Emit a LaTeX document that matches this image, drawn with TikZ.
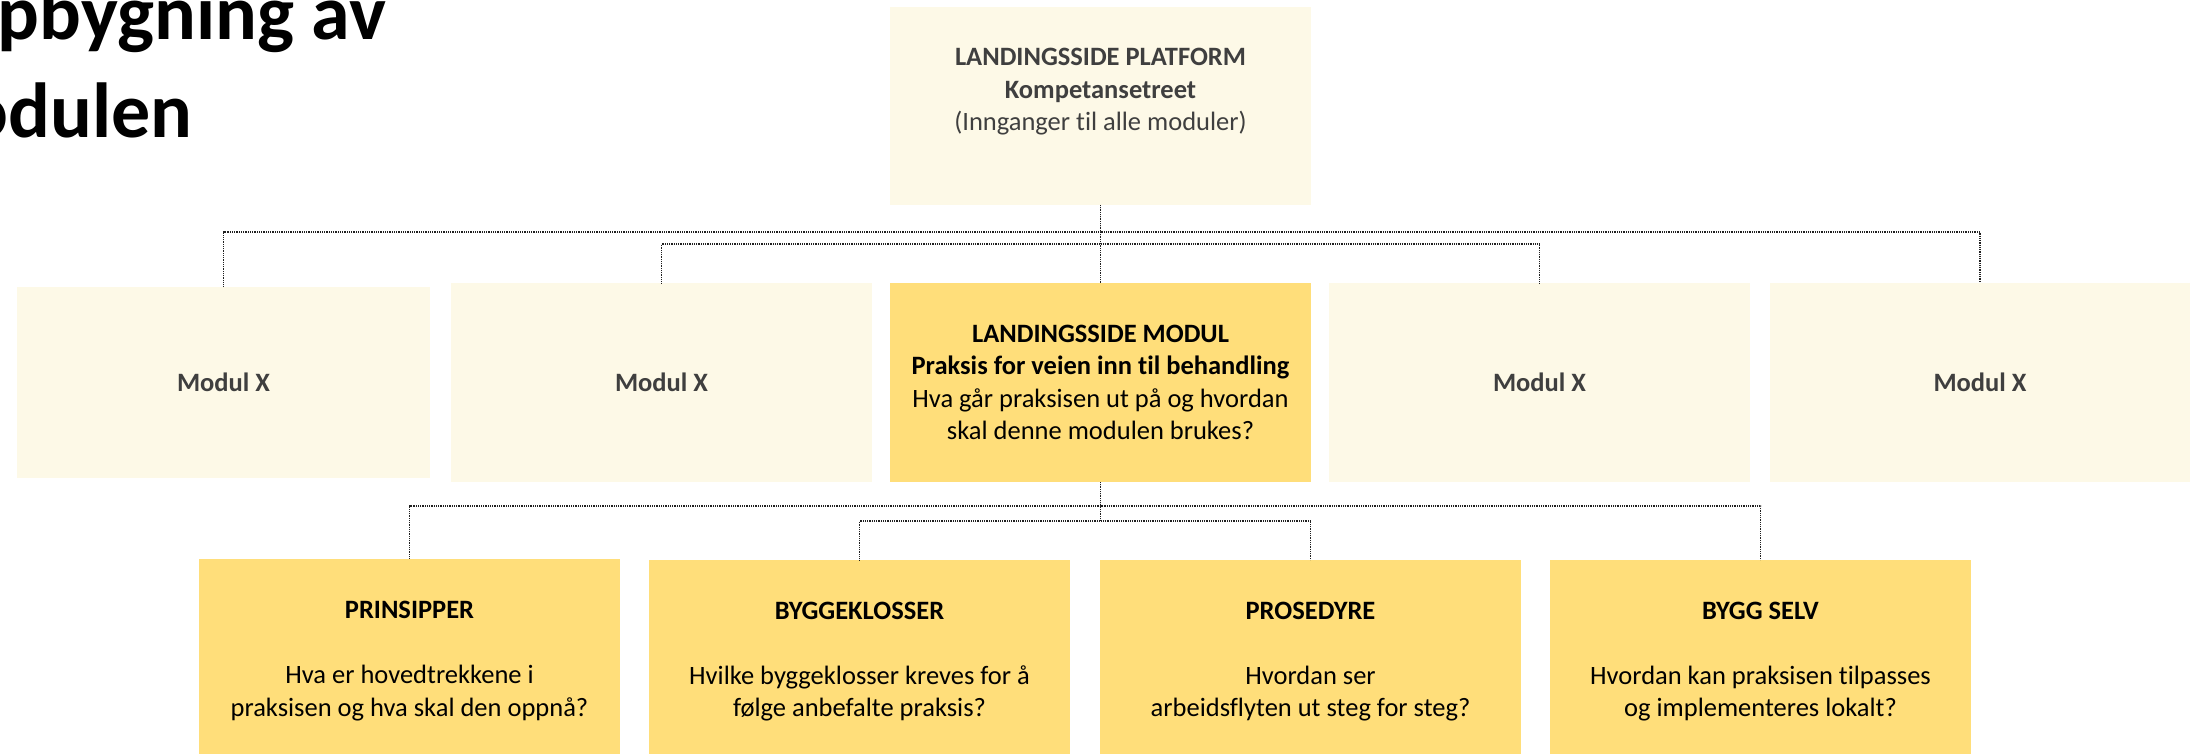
\documentclass[tikz,border=0pt]{standalone}
\usepackage{fontspec}
\setmainfont{Carlito}[Ligatures=NoCommon]
\definecolor{pale}{HTML}{FDF9E7}
\definecolor{gold}{HTML}{FFDE7A}
\definecolor{txtgray}{HTML}{3F3F3F}
\definecolor{linegray}{HTML}{202020}
\begin{document}
\begin{tikzpicture}[x=1pt,y=-1pt,
  box/.style={rectangle, inner sep=0pt, outer sep=0pt, anchor=north west, align=center,
    minimum width=421pt, minimum height=199pt,
    font=\fontsize{26.5}{32.5}\selectfont},
  palebox/.style={box, fill=pale, text=txtgray},
  goldbox/.style={box, fill=gold, text=black},
  conn/.style={draw=linegray, line width=1.1pt, dash pattern=on 1pt off 0.8pt}
]
\useasboundingbox (0,0) rectangle (2199,754);
\clip (0,0) rectangle (2199,754);
\fill[white] (0,0) rectangle (2199,754);

% title (cut off at the left edge, as in the reference)
\node[anchor=base west, inner sep=0pt, align=left, font=\fontsize{78}{98}\selectfont\bfseries] (title) at (-97,138) {Oppbygning av\\modulen};

% top box
\node[palebox, minimum height=198pt] (top) at (890,7) {\textbf{LANDINGSSIDE PLATFORM}\\\textbf{Kompetansetreet}\\(Innganger til alle moduler)\\\mbox{}};

% second row
\node[palebox, minimum width=413pt, minimum height=191pt] (m1) at (17,287) {\textbf{Modul X}};
\node[palebox] (m2) at (451,283) {\textbf{Modul X}};
\node[goldbox] (mid) at (890,283) {\textbf{LANDINGSSIDE MODUL}\\\textbf{Praksis for veien inn til behandling}\\Hva går praksisen ut på og hvordan\\skal denne modulen brukes?};
\node[palebox] (m4) at (1329,283) {\textbf{Modul X}};
\node[palebox, minimum width=420pt] (m5) at (1770,283) {\textbf{Modul X}};

% bottom row
\node[goldbox, minimum height=204pt] (b1) at (199,559) {\textbf{PRINSIPPER}\\\mbox{}\\Hva er hovedtrekkene i\\praksisen og hva skal den oppnå?};
\node[goldbox, minimum height=203pt] (b2) at (649,560) {\textbf{BYGGEKLOSSER}\\\mbox{}\\Hvilke byggeklosser kreves for å\\følge anbefalte praksis?};
\node[goldbox, minimum height=203pt] (b3) at (1100,560) {\textbf{PROSEDYRE}\\\mbox{}\\Hvordan ser\\arbeidsflyten ut steg for steg?};
\node[goldbox, minimum height=203pt] (b4) at (1550,560) {\textbf{BYGG SELV}\\\mbox{}\\Hvordan kan praksisen tilpasses\\og implementeres lokalt?};

% connectors top -> second row
\draw[conn] (top.south) -- ++(0,27) -| (m1.north);
\draw[conn] (top.south) -- ++(0,27) -| (m5.north);
\draw[conn] (top.south) -- ++(0,39) -| (m2.north);
\draw[conn] (top.south) -- ++(0,39) -| (m4.north);
\draw[conn] (top.south) -- (mid.north);

% connectors mid -> bottom row
\draw[conn] (mid.south) -- ++(0,24) -| (b1.north);
\draw[conn] (mid.south) -- ++(0,24) -| (b4.north);
\draw[conn] (mid.south) -- ++(0,39) -| (b2.north);
\draw[conn] (mid.south) -- ++(0,39) -| (b3.north);
\end{tikzpicture}
\end{document}
